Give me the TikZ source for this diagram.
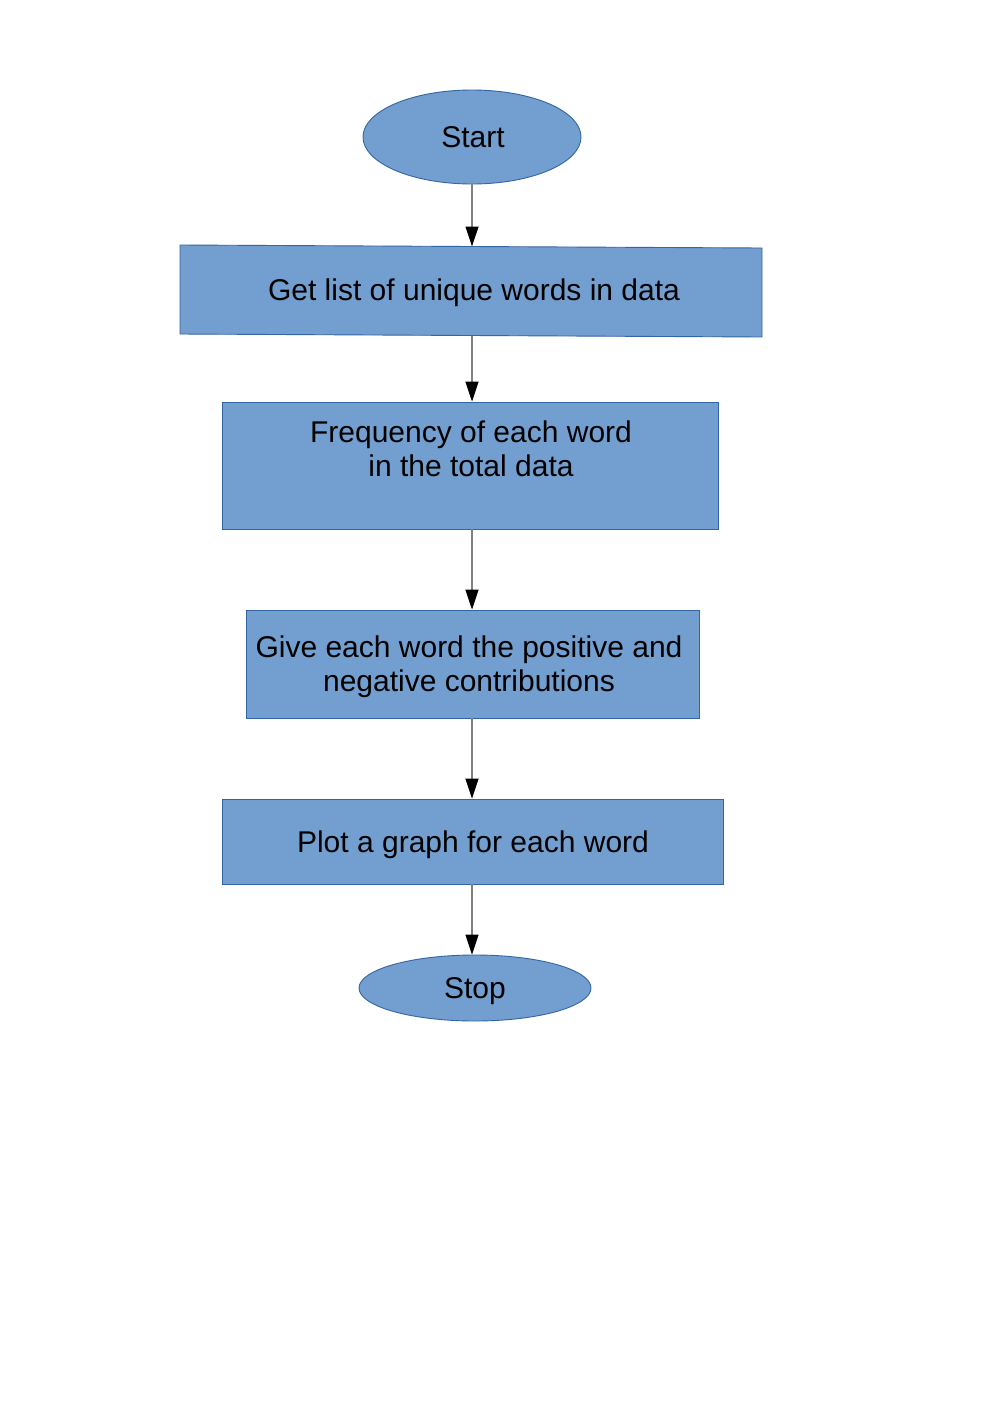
\documentclass[tikz,border=0pt]{standalone}
\usepackage{fontspec}
\setmainfont{Liberation Sans}
\usetikzlibrary{arrows.meta,shapes.geometric}
\definecolor{boxfill}{HTML}{729FCF}
\definecolor{boxline}{HTML}{3465A4}
\definecolor{arrline}{HTML}{808080}
\begin{document}
\begin{tikzpicture}[x=1pt,y=-1pt,
  shapestyle/.style={fill=boxfill,draw=boxline,line width=0.9pt},
  term/.style={shapestyle,ellipse,inner sep=0pt},
  proc/.style={shapestyle,rectangle,inner sep=0pt},
  lbl/.style={font=\fontsize{30}{34}\selectfont,text=black,inner sep=0pt,align=center},
  flow/.style={draw=arrline,line width=1.2pt,-{Triangle[length=20pt,width=13pt,color=black]}}]
\useasboundingbox[fill=white] (0,0) rectangle (992,1403);

% Start
\node[term,minimum width=218pt,minimum height=94pt] (start) at (472,137) {};
\node[lbl,anchor=base] (starttxt) at (473,147) {Start};

% Box 1 (slightly skewed)
\coordinate (b1tl) at (180,245);
\coordinate (b1tr) at (762,248);
\coordinate (b1br) at (762,337);
\coordinate (b1bl) at (180,334);
\coordinate (b1top) at (472,246.5);
\coordinate (b1bot) at (472,335.5);
\draw[shapestyle] (b1tl) -- (b1tr) -- (b1br) -- (b1bl) -- cycle;
\node[lbl,anchor=base] (b1txt) at (474,300) {Get list of unique words in data};

% Box 2
\node[proc,minimum width=496pt,minimum height=127pt] (b2) at (470,465.5) {};
\node[lbl] (b2txt) at (471,449) {Frequency of each word\\in the total data};

% Box 3
\node[proc,minimum width=453pt,minimum height=108pt] (b3) at (472.5,664) {};
\node[lbl] (b3txt) at (469,667) {Give each word the positive and\\negative contributions};

% Box 4
\node[proc,minimum width=501pt,minimum height=85pt] (b4) at (472.5,841.5) {};
\node[lbl,anchor=base] (b4txt) at (473,852) {Plot a graph for each word};

% Stop
\node[term,minimum width=232pt,minimum height=66pt] (stop) at (475,988) {};
\node[lbl,anchor=base] (stoptxt) at (475,998) {Stop};

% Connectors
\draw[flow] (start.south) -- (b1top);
\draw[flow] (b1bot) -- (b1bot |- b2.north);
\draw[flow] (b1bot |- b2.south) -- (b1bot |- b3.north);
\draw[flow] (b1bot |- b3.south) -- (b1bot |- b4.north);
\draw[flow] (b1bot |- b4.south) -- (b1bot |- stop.north);
\end{tikzpicture}
\end{document}
